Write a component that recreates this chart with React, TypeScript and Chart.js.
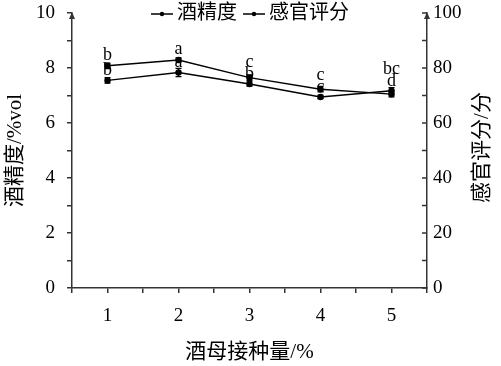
import React, { useEffect, useRef } from "react";
import { Chart, registerables } from "chart.js";

Chart.register(...registerables);

const categories = [1, 2, 3, 4, 5];
const alcohol = [7.55, 7.84, 7.42, 6.95, 7.17];
const alcoholErr = [0.1, 0.15, 0.08, 0.06, 0.12];
const alcoholLetters = ["b", "a", "b", "c", "d"];
const sensory = [80.8, 82.9, 76.5, 72.3, 70.5];
const sensoryErr = [1.0, 0.8, 1.0, 1.0, 1.0];
const sensoryLetters = ["b", "a", "c", "c", "bc"];
const leftTicks = [0, 2, 4, 6, 8, 10];
const rightTicks = [0, 20, 40, 60, 80, 100];
const seriesNames = ["酒精度", "感官评分"];
const xTitle = "酒母接种量/%";
const leftTitle = "酒精度/%vol";
const rightTitle = "感官评分/分";

const FAMILY = "'Liberation Serif', 'Noto Sans CJK SC', serif";
const AXIS = "#333";

const overlay = {
  id: "overlay",
  afterDatasetsDraw(chart: any) {
    const { ctx, chartArea } = chart;
    const xs = chart.scales.x;
    const y1 = chart.scales.y;
    const y2 = chart.scales.y2;
    ctx.save();
    // error bars
    const drawErr = (vals: number[], errs: number[], sc: any) => {
      ctx.strokeStyle = "#000";
      ctx.lineWidth = 1.2;
      vals.forEach((v, i) => {
        const px = xs.getPixelForValue(categories[i]);
        const top = sc.getPixelForValue(v + errs[i]);
        const bot = sc.getPixelForValue(v - errs[i]);
        ctx.beginPath();
        ctx.moveTo(px, top);
        ctx.lineTo(px, bot);
        ctx.moveTo(px - 3, top);
        ctx.lineTo(px + 3, top);
        ctx.moveTo(px - 3, bot);
        ctx.lineTo(px + 3, bot);
        ctx.stroke();
      });
    };
    drawErr(alcohol, alcoholErr, y1);
    drawErr(sensory, sensoryErr, y2);

    // letters
    ctx.fillStyle = "#000";
    ctx.font = "18px " + FAMILY;
    ctx.textAlign = "center";
    ctx.textBaseline = "middle";
    categories.forEach((c, i) => {
      const px = xs.getPixelForValue(c);
      const pB = y1.getPixelForValue(alcohol[i]);
      const pA = y2.getPixelForValue(sensory[i]);
      const yB = pB - 10;
      const yA = Math.min(pA - 11, yB - 12);
      ctx.fillText(alcoholLetters[i], px, yB);
      ctx.fillText(sensoryLetters[i], px, yA);
    });

    // right axis inward ticks
    ctx.strokeStyle = AXIS;
    ctx.lineWidth = 1.5;
    for (let v = 0; v <= 100; v += 10) {
      const py = y2.getPixelForValue(v);
      ctx.beginPath();
      ctx.moveTo(chartArea.right - 5, py);
      ctx.lineTo(chartArea.right, py);
      ctx.stroke();
    }

    // arrows
    ctx.fillStyle = AXIS;
    [chartArea.left, chartArea.right].forEach((ax) => {
      ctx.beginPath();
      ctx.moveTo(ax, chartArea.top - 1);
      ctx.lineTo(ax - 3, chartArea.top + 6);
      ctx.lineTo(ax + 3, chartArea.top + 6);
      ctx.closePath();
      ctx.fill();
    });

    // right title
    ctx.fillStyle = "#000";
    ctx.font = "21px " + FAMILY;
    ctx.translate(482, (chartArea.top + chartArea.bottom) / 2 - 3);
    ctx.rotate(-Math.PI / 2);
    ctx.textAlign = "center";
    ctx.textBaseline = "middle";
    ctx.fillText(rightTitle, 0, 0);
    ctx.restore();

    // legend
    ctx.save();
    ctx.font = "20px " + FAMILY;
    ctx.textBaseline = "middle";
    ctx.textAlign = "left";
    const ly = 14;
    let lx = 151;
    seriesNames.forEach((name) => {
      ctx.strokeStyle = "#000";
      ctx.lineWidth = 1.5;
      ctx.beginPath();
      ctx.moveTo(lx, ly);
      ctx.lineTo(lx + 22, ly);
      ctx.stroke();
      ctx.fillStyle = "#000";
      ctx.beginPath();
      ctx.arc(lx + 11, ly, 2.2, 0, Math.PI * 2);
      ctx.fill();
      ctx.fillText(name, lx + 26, ly);
      lx += 26 + ctx.measureText(name).width + 6;
    });
    ctx.restore();
  },
};

export default function App() {
  const ref = useRef<HTMLCanvasElement | null>(null);
  useEffect(() => {
    document.body.style.margin = "0";
    const canvas = ref.current;
    if (!canvas) return;
    const chart = new Chart(canvas, {
      type: "line",
      data: {
        datasets: [
          {
            label: seriesNames[0],
            data: categories.map((c, i) => ({ x: c, y: alcohol[i] })),
            yAxisID: "y",
            borderColor: "#000",
            backgroundColor: "#000",
            borderWidth: 1.5,
            pointRadius: 2.5,
            tension: 0,
          },
          {
            label: seriesNames[1],
            data: categories.map((c, i) => ({ x: c, y: sensory[i] })),
            yAxisID: "y2",
            borderColor: "#000",
            backgroundColor: "#000",
            borderWidth: 1.5,
            pointRadius: 2.5,
            tension: 0,
          },
        ],
      },
      options: {
        animation: false,
        responsive: false,
        layout: { padding: { top: 13, left: 0, right: 0, bottom: 0 } },
        plugins: { legend: { display: false }, tooltip: { enabled: false } },
        scales: {
          x: {
            type: "linear",
            min: 0.5,
            max: 5.5,
            afterBuildTicks: (s: any) => {
              const t = [];
              for (let v = 0.5; v <= 5.5001; v += 0.5) t.push({ value: v });
              s.ticks = t;
            },
            afterFit: (s: any) => {
              s.height = 78;
              s.paddingLeft = 0;
              s.paddingRight = 0;
            },
            ticks: {
              autoSkip: false,
              maxRotation: 0,
              padding: 12,
              color: "#000",
              font: { family: FAMILY, size: 19 },
              callback: (v: any) => (Number.isInteger(v) && categories.includes(v) ? String(v) : ""),
            },
            grid: { drawOnChartArea: false, drawTicks: true, tickLength: 5, color: AXIS, lineWidth: 1.5 },
            border: { display: true, color: AXIS, width: 1.5 },
            title: {
              display: true,
              text: xTitle,
              color: "#000",
              font: { family: FAMILY, size: 21 },
              padding: { top: 0, bottom: 1 },
            },
          },
          y: {
            position: "left",
            min: 0,
            max: 10,
            afterBuildTicks: (s: any) => {
              const t = [];
              for (let v = 0; v <= 10; v += 1) t.push({ value: v });
              s.ticks = t;
            },
            afterFit: (s: any) => {
              s.width = 72;
              s.paddingTop = 0;
              s.paddingBottom = 0;
            },
            ticks: {
              padding: 12,
              color: "#000",
              font: { family: FAMILY, size: 19 },
              callback: (v: any) => (leftTicks.includes(v) ? String(v) : ""),
            },
            grid: { drawOnChartArea: false, drawTicks: true, tickLength: 5, color: AXIS, lineWidth: 1.5 },
            border: { display: true, color: AXIS, width: 1.5 },
            title: {
              display: true,
              text: leftTitle,
              color: "#000",
              font: { family: FAMILY, size: 21 },
              padding: { top: 3, bottom: 0 },
            },
          },
          y2: {
            position: "right",
            min: 0,
            max: 100,
            afterBuildTicks: (s: any) => {
              s.ticks = rightTicks.map((v) => ({ value: v }));
            },
            afterFit: (s: any) => {
              s.width = 74;
              s.paddingTop = 0;
              s.paddingBottom = 0;
            },
            ticks: {
              padding: 6,
              color: "#000",
              font: { family: FAMILY, size: 19 },
              callback: (v: any) => String(v),
            },
            grid: { display: false, drawTicks: false, drawOnChartArea: false },
            border: { display: true, color: AXIS, width: 1.5 },
          },
        },
      },
      plugins: [overlay],
    } as any);
    return () => chart.destroy();
  }, []);
  return (
    <div style={{ width: 501, height: 366 }}>
      <canvas ref={ref} width={501} height={366} />
    </div>
  );
}
